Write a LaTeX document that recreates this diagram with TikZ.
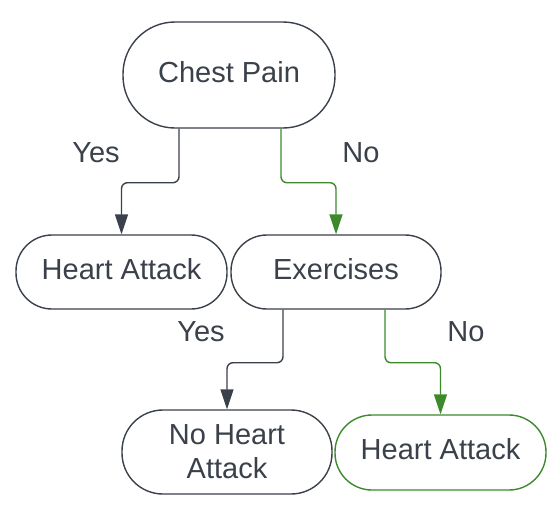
\documentclass[tikz,border=0pt]{standalone}
\usepackage{fontspec}
\setmainfont{Liberation Sans}
\usetikzlibrary{arrows.meta}
\definecolor{ink}{RGB}{58,65,74}
\definecolor{grn}{RGB}{60,138,44}
\tikzset{
  box/.style={draw=ink, line width=1.4pt, fill=white, text=ink, align=center,
    inner sep=0pt, font=\fontsize{29}{34}\selectfont},
  oneline/.style={text depth=7pt},
  conn/.style={draw=ink, line width=1.4pt, rounded corners=6pt,
    -{Triangle[width=13pt,length=20pt]}},
  gconn/.style={conn, draw=grn, fill=none},
  lab/.style={text=ink, font=\fontsize{29}{34}\selectfont, inner sep=0pt}
}
\begin{document}
\begin{tikzpicture}[x=1pt,y=-1pt]
\path[use as bounding box] (0,0) rectangle (560,520);
\node[box, oneline, minimum width=212pt, minimum height=106pt, rounded corners=52pt] (cp) at (229,75) {Chest Pain};
\node[box, oneline, minimum width=211pt, minimum height=74pt, rounded corners=36pt] (ha1) at (121.5,272) {Heart Attack};
\node[box, oneline, minimum width=210pt, minimum height=74pt, rounded corners=36pt] (ex) at (336,272) {Exercises};
\node[box, minimum width=210pt, minimum height=84pt, rounded corners=41pt] (nha) at (227,452) {No Heart\\Attack};
\node[box, oneline, draw=grn, minimum width=211pt, minimum height=75pt, rounded corners=37pt] (ha2) at (440.5,452.5) {Heart Attack};
\draw[conn] ([xshift=-50pt]cp.south) -- ++(0,54) -| (ha1.north);
\draw[gconn] ([xshift=52pt]cp.south) -- ++(0,54) -| (ex.north);
\draw[conn] ([xshift=-53pt]ex.south) -- ++(0,53) -| (nha.north);
\draw[gconn] ([xshift=49pt]ex.south) -- ++(0,53) -| (ha2.north);
\node[lab] (l1) at (96,153) {Yes};
\node[lab] (l2) at (361,153) {No};
\node[lab] (l3) at (201,332) {Yes};
\node[lab] (l4) at (466,332) {No};
\end{tikzpicture}
\end{document}
